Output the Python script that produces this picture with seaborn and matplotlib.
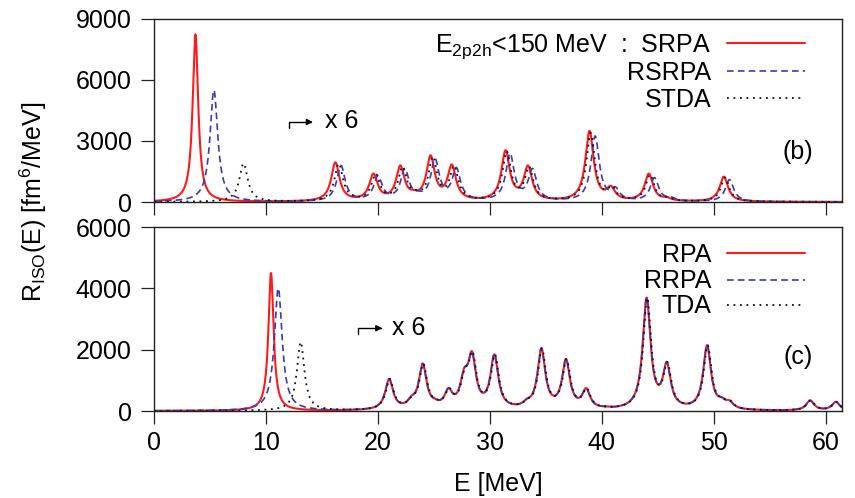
import numpy as np
import pandas as pd
import matplotlib
matplotlib.use("Agg")
import matplotlib.pyplot as plt
import seaborn as sns

# ---------------- data (peak energies [MeV], displayed peak heights [fm^6/MeV]) ----------------
# panel (b): E_2p2h < 150 MeV
SRPA_E = [3.7, 16.2, 19.6, 22.0, 23.2, 24.7, 26.6, 31.4, 33.4, 38.9, 40.8, 44.2, 45.8, 50.9]
SRPA_H = [8250, 1950, 1400, 1800, 600, 2300, 1850, 2550, 1800, 3500, 800, 1400, 250, 1250]
RSRPA_E = [5.35, 16.7, 20.0, 22.4, 23.6, 25.1, 27.0, 31.8, 33.8, 39.4, 41.2, 44.7, 46.2, 51.4]
RSRPA_H = [5500, 1800, 1300, 1650, 550, 2150, 1700, 2400, 1650, 3250, 750, 1200, 250, 1100]
STDA_E = [8.0, 16.5, 19.8, 22.2, 23.4, 24.9, 26.8, 31.5, 33.5, 39.0, 40.9, 44.3, 45.9, 51.0]
STDA_H = [1900, 1900, 1400, 1750, 600, 2250, 1800, 2500, 1750, 3400, 800, 1350, 250, 1200]

# panel (c)
RPA_E = [10.45, 21.0, 23.0, 24.0, 25.1, 26.3, 27.7, 28.4, 30.4, 33.3, 34.6, 36.8, 38.6, 40.3,
         44.0, 45.8, 49.4, 50.7, 51.4, 58.6, 60.9]
RPA_H = [4500, 1050, 500, 1550, 400, 750, 1400, 1950, 1850, 400, 2050, 1700, 750, 150,
         3700, 1600, 2150, 450, 350, 350, 300]
RRPA_E = [11.1, 21.0, 23.0, 24.0, 25.1, 26.3, 27.7, 28.4, 30.4, 33.3, 34.6, 36.8, 38.6, 40.3,
          44.0, 45.8, 49.4, 50.7, 51.4, 58.6, 60.9]
RRPA_H = [4000, 1050, 500, 1550, 400, 750, 1400, 1950, 1850, 400, 2050, 1700, 750, 150,
          3700, 1600, 2150, 450, 350, 350, 300]
TDA_E = [13.1, 21.05, 23.05, 24.05, 25.15, 26.35, 27.75, 28.45, 30.45, 33.35, 34.65, 36.85, 38.65, 40.35,
         44.05, 45.85, 49.45, 50.75, 51.45, 58.65, 60.95]
TDA_H = [2250, 1050, 500, 1550, 400, 750, 1400, 1950, 1850, 400, 2050, 1700, 750, 150,
         3700, 1600, 2150, 450, 350, 350, 300]

# Lorentzian half widths [MeV]: first (low-energy) peak, and the remaining peaks
WIDTH_FIRST = {"SRPA": 0.3, "RSRPA": 0.42, "STDA": 0.45, "RPA": 0.28, "RRPA": 0.42, "TDA": 0.4}
WIDTH_REST = {"b": 0.45, "c": 0.42}

X_TICKS = [0, 10, 20, 30, 40, 50, 60]
Y_TICKS_B = [0, 3000, 6000, 9000]
Y_TICKS_C = [0, 2000, 4000, 6000]


def folded(energies, heights, g0, g):
    """Lorentzian folding of discrete strengths so displayed peak heights match."""
    e = np.asarray(energies, float)
    h = np.asarray(heights, float)
    w = np.full(len(e), g)
    w[0] = g0
    A = 1.0 / (1.0 + ((e[:, None] - e[None, :]) / w[None, :]) ** 2)
    s = np.linalg.solve(A, h)
    grid = np.linspace(0, 61.5, 4000)
    y = (s[None, :] / (1.0 + ((grid[:, None] - e[None, :]) / w[None, :]) ** 2)).sum(axis=1)
    return pd.DataFrame({"E": grid, "R": y})


sns.set_theme(style="ticks")
plt.rcParams["font.family"] = ["Liberation Sans", "DejaVu Sans"]
plt.rcParams["mathtext.fontset"] = "custom"
plt.rcParams["mathtext.rm"] = "Liberation Sans"
plt.rcParams["mathtext.it"] = "Liberation Sans:italic"
plt.rcParams["text.color"] = "black"
plt.rcParams["axes.labelcolor"] = "black"
plt.rcParams["xtick.labelcolor"] = "black"
plt.rcParams["ytick.labelcolor"] = "black"
FS = 18

fig = plt.figure(figsize=(8.55, 4.98), dpi=100)
W, H = 855, 498
def rect(l, r, t, b):
    return [l / W, 1 - b / H, (r - l) / W, (b - t) / H]

ax_b = fig.add_axes(rect(154, 842, 19, 202))
ax_c = fig.add_axes(rect(154, 842, 227, 411))

RED = dict(color="#ff1a1a", lw=1.5, linestyle="-")
BLUE = dict(color="#3a3ab8", lw=1.2, linestyle=(0, (4, 2.5)))
BLACK = dict(color="#111111", lw=1.3, linestyle=(0, (1, 2.6)))

series_b = [("SRPA", SRPA_E, SRPA_H, RED), ("RSRPA", RSRPA_E, RSRPA_H, BLUE), ("STDA", STDA_E, STDA_H, BLACK)]
series_c = [("RPA", RPA_E, RPA_H, RED), ("RRPA", RRPA_E, RRPA_H, BLUE), ("TDA", TDA_E, TDA_H, BLACK)]

for ax, series, pan in [(ax_b, series_b, "b"), (ax_c, series_c, "c")]:
    for name, e, h, st in series:
        df = folded(e, h, WIDTH_FIRST[name], WIDTH_REST[pan])
        sns.lineplot(data=df, x="E", y="R", ax=ax, sort=False, estimator=None, **st)

for ax, yt in [(ax_b, Y_TICKS_B), (ax_c, Y_TICKS_C)]:
    ax.set_xlim(0, 61.45)
    ax.set_ylim(0, yt[-1])
    ax.set_xticks(X_TICKS)
    ax.set_yticks(yt)
    ax.set_xlabel("")
    ax.set_ylabel("")
    for s in ax.spines.values():
        s.set_visible(True)
        s.set_linewidth(1.0)
        s.set_color("#222222")
    ax.tick_params(direction="out", length=9.5, width=0.9, colors="#222222",
                   labelsize=FS, labelcolor="black", pad=5)
    ax.tick_params(axis="y", pad=6.5)
    ax.set_facecolor("white")

ax_b.set_xticklabels([])
ax_c.set_xlabel("E [MeV]", fontsize=FS, labelpad=12, color="black")
fig.text(33 / W, 1 - 202 / H, r"R$_{\rm ISO}$(E) [fm$^{6}$/MeV]", rotation=90,
         ha="center", va="center", fontsize=FS, color="black")

# legends
def legend(ax, labels, styles, base_y, line_y):
    for lab, st, by, ly in zip(labels, styles, base_y, line_y):
        ax.text(0.810, by, lab, transform=ax.transAxes, ha="right", va="baseline",
                fontsize=FS, color="black")
        ax.plot([0.833, 0.946], [ly, ly], transform=ax.transAxes, **st)

legend(ax_b, [r"E$_{\rm 2p2h}$<150 MeV  :  SRPA", "RSRPA", "STDA"], [RED, BLUE, BLACK],
       [0.820, 0.667, 0.519], [0.869, 0.716, 0.568])
legend(ax_c, ["RPA", "RRPA", "TDA"], [RED, BLUE, BLACK],
       [0.810, 0.668, 0.533], [0.859, 0.712, 0.576])

ax_b.text(0.936, 0.273, "(b)", transform=ax_b.transAxes, ha="center", va="center",
          fontsize=FS, color="black")
ax_c.text(0.936, 0.293, "(c)", transform=ax_c.transAxes, ha="center", va="center",
          fontsize=FS, color="black")

# "x 6" scale markers
ARROW = dict(arrowstyle="-|>", connectionstyle="angle,angleA=90,angleB=0,rad=0",
             color="black", lw=1.0, shrinkA=0, shrinkB=0, mutation_scale=9)
ax_b.annotate("", xy=(14.2, 3935), xytext=(12.1, 3650), arrowprops=ARROW)
ax_b.text(15.3, 4000, "x 6", ha="left", va="center", fontsize=FS, color="black")
ax_c.annotate("", xy=(20.4, 2700), xytext=(18.2, 2520), arrowprops=ARROW)
ax_c.text(21.3, 2700, "x 6", ha="left", va="center", fontsize=FS, color="black")

fig.savefig("out.png", dpi=100, facecolor="white")
